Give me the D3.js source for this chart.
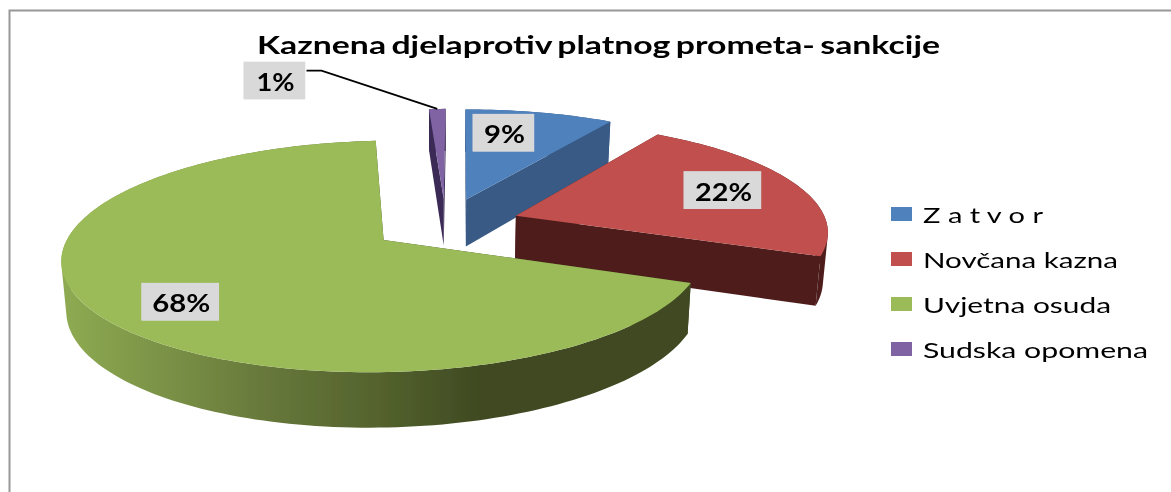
<!DOCTYPE html>
<html lang="en">
  <head>
    <meta charset="UTF-8" />
    <title>Kaznena djelaprotiv platnog prometa- sankcije</title>
    <script src="https://d3js.org/d3.v7.min.js"></script>
    <style>
      html, body { margin: 0; padding: 0; background: #fff; }
      svg { display: block; }
      text { font-family: Lato, "Open Sans", sans-serif; fill: #000; }
    </style>
  </head>
  <body>
    <div id="chart"></div>
    <script>
      // values
      const titleText = "Kaznena djelaprotiv platnog prometa- sankcije";
      const categories = ["Z a t v o r", "Novčana kazna", "Uvjetna osuda", "Sudska opomena"];
      const values = [9, 22, 68, 1];
      const labels = ["9%", "22%", "68%", "1%"];

      const topColors = ["#4F81BD", "#C0504D", "#9BBB59", "#8064A2"];
      const sideColors = ["#375A85", "#4F1E1E", "url(#greenRim)", "#3A2A55"];

      const width = 1171, height = 492;

      // where things sit on the tilted plane, radius = 1
      const labelAnchors = [[0.205, 0.945], [0.928, 0.316], [-0.772, -0.643], [-0.685, 1.62]];
      const labelWidths = [41, 57, 58, 38];
      const legendWidths = [120, 195, 188, 225];
      const explode = 0.24;

      let svg = d3.select("#chart").append("svg")
        .attr("width", width)
        .attr("height", height);

      let defs = svg.append("defs");
      let grad = defs.append("linearGradient")
        .attr("id", "greenRim")
        .attr("gradientUnits", "userSpaceOnUse")
        .attr("x1", 62).attr("x2", 480).attr("y1", 0).attr("y2", 0);
      [[0, "#8EAB52"], [0.5, "#66773A"], [0.74, "#55642E"], [1, "#3F4A22"]].forEach(function (s) {
        grad.append("stop").attr("offset", s[0]).attr("stop-color", s[1]);
      });
      defs.append("filter").attr("id", "soft")
        .append("feGaussianBlur").attr("stdDeviation", 0.6);

      // frame, cut off by the right and bottom of the picture
      svg.append("path")
        .attr("d", `M9.5,${height}V10.5H${width}`)
        .attr("fill", "none")
        .attr("stroke", "#989898")
        .attr("stroke-width", 2);

      // plane (u, v) to screen, z = 0 top face, z = 1 bottom face
      function project(u, v, z) {
        let w = 1 + 0.14 * v;
        let x = (311 * u + 2 * v) / w;
        let y = (-1 * u - 109 * v) / w;
        return [445.5 + x * (1 - 0.013 * z), 224 + y * (1 + 0.05 * z) + 48 * z];
      }

      let pieLayout = d3.pie().sort(null).value(function (d) { return d; });
      let arcs = pieLayout(values);
      let line = d3.line();

      function apex(d) {
        let mid = (d.startAngle + d.endAngle) / 2;
        return [explode * Math.sin(mid), explode * Math.cos(mid)];
      }

      function rimPoints(d, z) {
        let c = apex(d);
        let n = Math.max(2, Math.ceil((d.endAngle - d.startAngle) * 40));
        return d3.range(n + 1).map(function (i) {
          let a = d.startAngle + (d.endAngle - d.startAngle) * i / n;
          return project(c[0] + Math.sin(a), c[1] + Math.cos(a), z);
        });
      }

      // rim as small quads, one outline would cancel itself where it turns over
      function rimPath(d) {
        let top = rimPoints(d, 0), bottom = rimPoints(d, 1);
        return d3.range(top.length - 1).map(function (i) {
          let quad = [top[i], top[i + 1], bottom[i + 1], bottom[i]];
          if (d3.polygonArea(quad) < 0) quad.reverse();
          return line(quad) + "Z";
        }).join("");
      }

      function cutFace(d, angle) {
        let c = apex(d);
        let u = c[0] + Math.sin(angle), v = c[1] + Math.cos(angle);
        return line([project(c[0], c[1], 0), project(u, v, 0), project(u, v, 1), project(c[0], c[1], 1)]) + "Z";
      }

      // painter's order, back slices first, green goes over the red one
      let slices = svg.append("g").attr("filter", "url(#soft)")
        .selectAll("g")
        .data([arcs[3], arcs[0], arcs[1], arcs[2]])
        .enter()
        .append("g");

      slices.append("path")
        .attr("d", rimPath)
        .attr("fill", function (d) { return sideColors[d.index]; });
      slices.append("path")
        .attr("d", function (d) { return cutFace(d, d.startAngle); })
        .attr("fill", function (d) { return d.index === 2 ? "#3F4A22" : sideColors[d.index]; });
      slices.append("path")
        .attr("d", function (d) { return cutFace(d, d.endAngle); })
        .attr("fill", function (d) { return d.index === 2 ? "#3F4A22" : sideColors[d.index]; });
      slices.append("path")
        .attr("d", function (d) {
          let c = apex(d);
          return line([project(c[0], c[1], 0)].concat(rimPoints(d, 0))) + "Z";
        })
        .attr("fill", function (d) { return topColors[d.index]; });

      // leader line of the small slice
      let small = arcs[3];
      let smallMid = (small.startAngle + small.endAngle) / 2;
      let smallCentre = apex(small);
      let smallLabel = project(labelAnchors[3][0], labelAnchors[3][1], 0);
      svg.append("path")
        .attr("d", line([
          [smallLabel[0] + 32, smallLabel[1] - 10],
          [smallLabel[0] + 47, smallLabel[1] - 10],
          project(smallCentre[0] + Math.sin(smallMid), smallCentre[1] + Math.cos(smallMid), 0),
        ]))
        .attr("fill", "none")
        .attr("stroke", "#000")
        .attr("stroke-width", 1.8);

      // data labels on grey boxes
      let label = svg.append("g").attr("filter", "url(#soft)")
        .selectAll("g")
        .data(labels)
        .enter()
        .append("g")
        .attr("transform", function (d, i) {
          let p = project(labelAnchors[i][0], labelAnchors[i][1], 0);
          return `translate(${p[0]},${p[1]})`;
        });
      label.append("rect")
        .attr("x", function (d) { return d.length > 2 ? -39 : -31; })
        .attr("y", -19)
        .attr("width", function (d) { return d.length > 2 ? 78 : 62; })
        .attr("height", 38)
        .attr("fill", "#D9D9D9");
      label.append("text")
        .attr("text-anchor", "middle")
        .attr("x", 1)
        .attr("y", 10.5)
        .attr("font-size", 24)
        .attr("font-weight", 700)
        .attr("textLength", function (d, i) { return labelWidths[i]; })
        .attr("lengthAdjust", "spacingAndGlyphs")
        .text(function (d) { return d; });

      // title
      svg.append("text")
        .attr("x", 257)
        .attr("y", 54)
        .attr("font-size", 24)
        .attr("font-weight", 700)
        .attr("word-spacing", -2)
        .attr("textLength", 683)
        .attr("lengthAdjust", "spacingAndGlyphs")
        .attr("filter", "url(#soft)")
        .text(titleText);

      // legend
      let legend = svg.append("g").attr("filter", "url(#soft)")
        .selectAll("g")
        .data(categories)
        .enter()
        .append("g")
        .attr("transform", function (d, i) {
          return "translate(891," + (207 + i * 45) + ")";
        });
      legend.append("rect")
        .attr("width", 21)
        .attr("height", 14)
        .attr("fill", function (d, i) { return topColors[i]; });
      legend.append("text")
        .attr("x", 32)
        .attr("y", 16)
        .attr("font-size", 21)
        .attr("textLength", function (d, i) { return legendWidths[i]; })
        .attr("lengthAdjust", "spacingAndGlyphs")
        .text(function (d) { return d; });
    </script>
  </body>
</html>
